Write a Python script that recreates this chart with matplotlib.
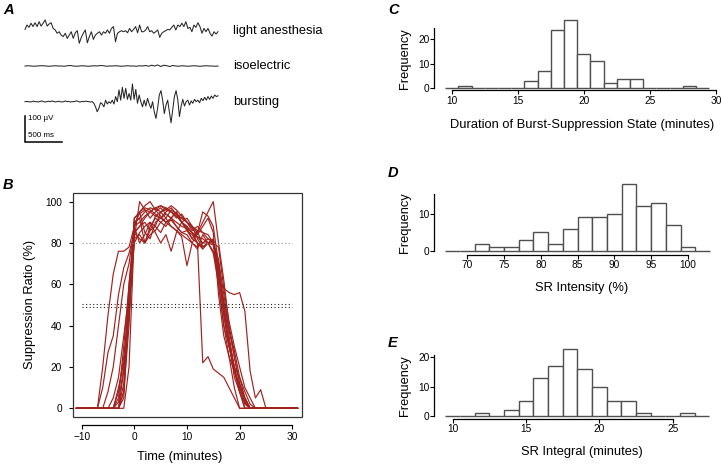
import numpy as np
import matplotlib
matplotlib.use("Agg")
import matplotlib.pyplot as plt
from matplotlib.patches import Rectangle

plt.rcParams['font.family'] = ['Liberation Sans', 'DejaVu Sans']

# ---------------- data ----------------
# Panel A: EEG example traces (microvolts, uniformly sampled over trace_duration_ms)
trace_duration_ms = 2630
trace_light = [5, 22, 13, 29, 16, 31, 16, 35, 18, 29,
               42, 18, 26, 31, 9, 3, -10, -4, -17, -23,
               -10, -30, -17, -4, -30, -8, 0, -49, -26, -10,
               3, -47, -23, -4, -34, -17, -10, -4, -17, -4,
               -10, 3, -10, 9, 16, -43, -10, -4, 0, -4,
               0, -8, 9, -4, 5, 16, -8, 22, -4, -4,
               3, 16, -4, 0, -10, -4, 3, -26, -10, -4,
               0, 5, 3, 13, 22, 3, 22, 16, 29, 16,
               35, 9, 13, -4, 22, 13, 31, 16, -10, 9,
               -4, 9, -10, -21, -4, -13, -4]
trace_iso = [0, 1, 0, -1, 0, 1, 1, 0, -1, 0,
             1, 0, 0, -1, 1, 2, 0, -1, 0, 1,
             0, -1, 0, 1, 0, 2, 1, -1, 0, 0,
             1, 0, -1, 0, 1, 0, 0, -1, 1, 0,
             2, -1, 3, 0, 4, -2, 3, 1, -2, 2,
             0, -1, 1, 0, -1, 0, 1, 0, -1, 0,
             1, 0, 0, -1, 0]
trace_burst = [0, 1, 0, -1, 0, 2, 0, 0, -1, 1,
               3, 0, -1, 0, 2, 0, 3, 1, -1, 0,
               2, 0, -1, 0, 3, 0, 1, -1, 0, 0,
               2, 3, 0, -1, 1, 0, 2, 1, 0, -1, 0,
               -6, -20, -39, -26, -4, -9, -20, 6, -9, 0,
               -6, 6, -9, 20, 0, 46, 6, 56, 13, 52,
               9, 32, 6, 69, 9, 48, -6, 26, 0, -20,
               6, -17, 13, -9, -26, 0, -39, -65, -26, 26,
               43, 6, -46, -13, 6, -39, -82, -32, 20, 43,
               9, -58, -17, 9, -17, 0, 6, -13, 3, -6,
               9, 0, 6, -4, 13, 4, 17, 6, 20, 9,
               22, 13, 26, 20, 23]
trace_labels = ["light anesthesia", "isoelectric", "bursting"]

# Panel B: suppression ratio (%) per subject, sampled each minute from onset
minutes = list(range(-11, 32))
sr_onsets = [-7, -7, -6, -5, -4, -4, -4, -3, -3, -3, -3, -2, -3, -4]
sr_curves = [
    [0, 20, 45, 65, 76, 76, 78, 88, 95, 97, 96, 94, 92, 90, 88, 86, 84, 82, 80, 78, 80, 80, 75, 60, 40, 25, 10, 0],
    [0, 10, 27, 35, 55, 68, 75, 85, 88, 92, 95, 97, 98, 97, 95, 93, 90, 88, 85, 83, 80, 82, 81, 62, 58, 56, 55, 56, 47, 18, 5, 9, 0],
    [0, 8, 20, 40, 60, 70, 88, 95, 98, 100, 96, 93, 90, 92, 88, 85, 86, 82, 80, 78, 80, 80, 65, 45, 30, 18, 8, 0],
    [0, 5, 15, 35, 55, 82, 100, 96, 92, 95, 97, 94, 92, 95, 90, 88, 85, 80, 77, 80, 79, 70, 50, 35, 20, 10, 3, 0],
    [0, 8, 25, 50, 88, 80, 84, 90, 88, 95, 92, 96, 94, 90, 92, 88, 82, 78, 80, 82, 68, 48, 32, 15, 8, 2, 0],
    [0, 3, 20, 45, 92, 95, 85, 82, 90, 92, 95, 97, 94, 92, 90, 86, 88, 85, 82, 80, 72, 55, 38, 28, 15, 5, 0],
    [0, 5, 30, 60, 85, 82, 80, 88, 92, 90, 88, 92, 95, 90, 86, 84, 80, 22, 25, 19, 17, 15, 10, 5, 0],
    [0, 8, 40, 90, 92, 95, 97, 96, 98, 96, 95, 93, 92, 90, 88, 86, 85, 84, 80, 60, 40, 30, 18, 10, 5, 0],
    [0, 12, 55, 88, 90, 93, 95, 97, 95, 96, 98, 96, 93, 90, 88, 85, 90, 95, 100, 80, 62, 40, 25, 12, 5, 0],
    [0, 5, 50, 80, 85, 88, 90, 85, 80, 84, 76, 85, 90, 87, 82, 86, 78, 80, 81, 65, 52, 38, 25, 12, 3, 0],
    [0, 18, 60, 90, 92, 80, 84, 86, 90, 92, 88, 86, 83, 69, 80, 85, 95, 93, 88, 70, 48, 32, 20, 8, 0],
    [0, 20, 85, 88, 90, 86, 93, 95, 97, 95, 92, 94, 90, 87, 84, 88, 92, 85, 55, 35, 25, 18, 10, 4, 0],
    [0, 8, 50, 92, 94, 96, 95, 93, 92, 94, 92, 90, 88, 87, 85, 83, 82, 80, 80, 78, 58, 42, 30, 20, 10, 5, 0],
    [0, 10, 22, 45, 82, 84, 80, 86, 88, 85, 90, 91, 88, 85, 84, 80, 77, 84, 80, 76, 65, 45, 30, 20, 15, 8, 2, 0],
]
sr_thresholds_gray = [80]
sr_thresholds_dark = [50.6, 49.2]

# Panel C: duration of burst-suppression state (minutes)
dur_bin_start, dur_bin_width = 9.5, 1
dur_counts = [0, 1, 0, 0, 0, 0, 3, 7, 24, 28, 14, 11, 2, 4, 4, 0, 0, 0, 1, 0]
# Panel D: SR intensity (%)
int_bin_start, int_bin_width = 67, 2
int_counts = [0, 0, 2, 1, 1, 3, 5, 2, 6, 9, 9, 10, 18, 12, 13, 7, 1, 0]
# Panel E: SR integral (minutes)
itg_bin_start, itg_bin_width = 9.5, 1
itg_counts = [0, 0, 1, 0, 2, 5, 13, 17, 23, 16, 10, 5, 5, 1, 0, 0, 1, 0]

# ---------------- layout helpers ----------------
W, H, DPI = 722, 466, 100
fig = plt.figure(figsize=(W / DPI, H / DPI), dpi=DPI)


def add_ax(left, top, right, bottom):
    return fig.add_axes([left / W, 1 - bottom / H, (right - left) / W, (bottom - top) / H])


def pt(px):
    return px * 72.0 / DPI


TICK_FS = 7.3
LABEL_FS = 9.3
LETTER_FS = 10.5
RED = '#A0221F'


def letter(x, y, s):
    fig.text(x / W, 1 - y / H, s, fontsize=LETTER_FS, fontweight='bold', fontstyle='italic',
             ha='left', va='center')


# ---------------- Panel A ----------------
axA = add_ax(0, 0, 370, 150)
ms_per_px = 500 / 36.7
uv_per_px = 100 / 25.7
axA.set_xlim(-25 * ms_per_px, (370 - 25) * ms_per_px)
axA.set_ylim(0, 150 * uv_per_px)
axA.axis('off')
centers_px = [30.7, 66.0, 101.7]
for vals, cpx, lab in zip([trace_light, trace_iso, trace_burst], centers_px, trace_labels):
    off = (150 - cpx) * uv_per_px
    t = np.linspace(0, trace_duration_ms, len(vals))
    axA.plot(t, np.array(vals) + off, color='#262626', lw=0.75)
    axA.text((233 - 25) * ms_per_px, off, lab, fontsize=LABEL_FS, ha='left', va='center')
bar_bottom = (150 - 141.7) * uv_per_px
axA.plot([0, 0, 500], [bar_bottom + 100, bar_bottom, bar_bottom], color='black', lw=1.1,
         solid_joinstyle='miter')
axA.text(3 * ms_per_px, (150 - 118.3) * uv_per_px, "100 µV", fontsize=5.8, ha='left', va='center')
axA.text(3 * ms_per_px, (150 - 135.0) * uv_per_px, "500 ms", fontsize=5.8, ha='left', va='center')
letter(3, 10, "A")

# ---------------- Panel B ----------------
bl, bt, br, bb = 73.3, 192.7, 301.7, 416.7
axB = add_ax(bl, bt, br, bb)
bx0_px, bxs = 134.3, 5.265
by0_px, bys = 408.3, 2.067
axB.set_xlim((bl - bx0_px) / bxs, (br - bx0_px) / bxs)
axB.set_ylim((by0_px - bb) / bys, (by0_px - bt) / bys)
minutes_arr = np.array(minutes)
for onset, vals in zip(sr_onsets, sr_curves):
    series = np.zeros(len(minutes_arr))
    i0 = minutes.index(onset)
    series[i0:i0 + len(vals)] = vals
    axB.plot(minutes_arr, series, color=RED, lw=0.85)
axB.hlines(sr_thresholds_gray, -10, 30, colors='#8c8c8c', lw=0.8, linestyles=(0, (1, 2.2)))
axB.hlines(sr_thresholds_dark, -10, 30, colors='#222222', lw=0.8, linestyles=(0, (1, 2.2)))
axB.add_patch(Rectangle((0, 0), 1, 1, transform=axB.transAxes, fill=False, lw=0.9,
                        edgecolor='#333333', clip_on=False, zorder=5))
for s in ['top', 'right', 'left']:
    axB.spines[s].set_visible(False)
axB.spines['bottom'].set_position(('outward', pt(8.3)))
axB.spines['bottom'].set_bounds(-10, 30)
axB.spines['bottom'].set_linewidth(0.9)
axB.set_xticks([-10, 0, 10, 20, 30])
axB.set_yticks([0, 20, 40, 60, 80, 100])
axB.tick_params(axis='both', direction='out', length=pt(4.3), width=0.8, labelsize=TICK_FS)
axB.tick_params(axis='y', pad=pt(7))
axB.tick_params(axis='x', pad=pt(2.5))
axB.set_xlabel("Time (minutes)", fontsize=LABEL_FS)
axB.set_ylabel("Suppression Ratio (%)", fontsize=LABEL_FS)
bw, bh = br - bl, bb - bt
axB.xaxis.set_label_coords((180 - bl) / bw, 1 - (456.7 - bt) / bh)
axB.xaxis.label.set_va('center')
axB.yaxis.set_label_coords((30 - bl) / bw, 0.5)
axB.yaxis.label.set_va('center')
letter(3, 185, "B")


# ---------------- Histograms ----------------
def hist_panel(top, bottom, ref_val, ref_px, px_per_unit, y_top, bin_start, bin_width, counts,
               xticks, yticks, xlabel, axis_gap, xlabel_y):
    left, right = 434.3, 720.0
    ax = add_ax(left, top, right, bottom)
    ax.set_xlim(ref_val + (left - ref_px) / px_per_unit, ref_val + (right - ref_px) / px_per_unit)
    ax.set_ylim(0, y_top)
    edges = bin_start + bin_width * np.arange(len(counts))
    ax.bar(edges, counts, width=bin_width, align='edge', color='white', edgecolor='#505050',
           lw=1.0, clip_on=False, zorder=3)
    for s in ['top', 'right']:
        ax.spines[s].set_visible(False)
    ax.spines['left'].set_linewidth(0.9)
    ax.spines['bottom'].set_linewidth(0.9)
    ax.spines['bottom'].set_position(('outward', pt(axis_gap)))
    ax.spines['bottom'].set_bounds(xticks[0], xticks[-1])
    ax.set_xticks(xticks)
    ax.set_yticks(yticks)
    ax.tick_params(axis='both', direction='out', length=pt(4.0), width=0.8, labelsize=TICK_FS)
    ax.tick_params(axis='y', pad=pt(1.0))
    ax.tick_params(axis='x', pad=pt(1.5))
    ax.set_xlabel(xlabel, fontsize=LABEL_FS)
    ax.set_ylabel("Frequency", fontsize=LABEL_FS)
    w, h = right - left, bottom - top
    ax.xaxis.set_label_coords((582 - left) / w, 1 - (xlabel_y - top) / h)
    ax.xaxis.label.set_va('center')
    ax.yaxis.set_label_coords((405 - left) / w, 0.5)
    ax.yaxis.label.set_va('center')
    return ax


hist_panel(28.3, 88.3, 10, 451.8, 13.2, 24.5, dur_bin_start, dur_bin_width, dur_counts,
           [10, 15, 20, 25, 30], [0, 10, 20], "Duration of Burst-Suppression State (minutes)",
           2.0, 125.0)
letter(388, 10, "C")

hist_panel(194.3, 251.0, 70, 467.3, 7.353, 15.2, int_bin_start, int_bin_width, int_counts,
           [70, 75, 80, 85, 90, 95, 100], [0, 10], "SR Intensity (%)",
           4.0, 288.3)
letter(388, 173, "D")

hist_panel(355.0, 416.0, 10, 452.7, 14.667, 20.8, itg_bin_start, itg_bin_width, itg_counts,
           [10, 15, 20, 25], [0, 10, 20], "SR Integral (minutes)",
           2.5, 451.7)
letter(388, 343, "E")

fig.savefig("out.png", dpi=DPI)
